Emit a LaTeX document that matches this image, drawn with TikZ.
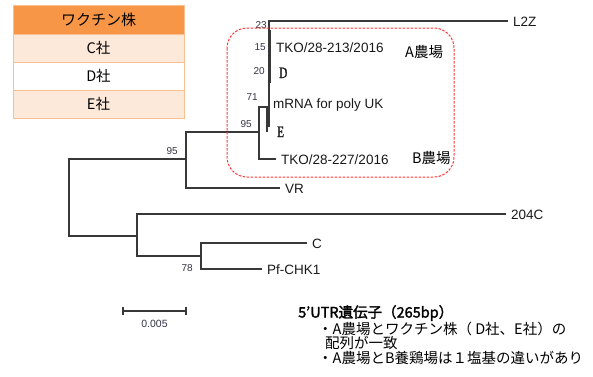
\documentclass[tikz,border=0pt]{standalone}
\usepackage{fontspec}
\setmainfont{Liberation Sans}
\newfontfamily\jp{Noto Sans CJK JP}
\newfontfamily\jpbold[FakeBold=2]{Noto Sans CJK JP}
\newfontfamily\narrowserif[FakeStretch=0.7,FakeBold=1.2]{Liberation Serif}
\usetikzlibrary{positioning}
\definecolor{branchgray}{HTML}{383838}
\definecolor{hdrorange}{HTML}{F79646}
\definecolor{rowpink}{HTML}{FDE9D9}
\definecolor{gridorange}{HTML}{FAC090}
\definecolor{bootgray}{HTML}{333344}
\definecolor{boxred}{HTML}{FF3535}

\begin{document}
\begin{tikzpicture}[x=1pt,y=-1pt,
  branch/.style={draw=branchgray,line width=1.3pt},
  leaf/.style={anchor=west,inner sep=5pt,text height=10pt,text depth=0pt,
               text=black!90,font=\fontsize{13.5}{14}\selectfont},
  boot/.style={anchor=east,inner sep=1pt,text=bootgray,font=\fontsize{10}{11}\selectfont},
  cell/.style={draw=gridorange,line width=1pt,minimum width=171pt,minimum height=28pt,
               inner sep=0pt,outer sep=0pt,font=\jp\fontsize{14.5}{15}\selectfont},
  jptext/.style={anchor=west,inner sep=0pt,font=\jp\fontsize{14.5}{15}\selectfont}]
  \useasboundingbox (0,0) rectangle (593,376);

  % vaccine strain table
  \node[cell,fill=hdrorange,minimum height=29pt,font=\jp\fontsize{15}{16}\selectfont]
       (hdr) at (98.5,19.5) {ワクチン株};
  \node[cell,fill=rowpink,below=0pt of hdr] (rowC) {C社};
  \node[cell,fill=white,below=0pt of rowC] (rowD) {D社};
  \node[cell,fill=rowpink,below=0pt of rowD] (rowE) {E社};

  % inner nodes of the tree
  \coordinate (root) at (69,197);
  \coordinate (n95a) at (186,159);
  \coordinate (n95b) at (259,132);
  \coordinate (n71) at (267,107);
  \coordinate (tipE) at (267,132);
  \coordinate (n23) at (269,107);
  \coordinate (n23end) at (269,127);
  \coordinate (n15top) at (270,30);
  \coordinate (n15bot) at (270,83);
  \coordinate (n2) at (137,236);
  \coordinate (n78) at (201,256);

  % leaves
  \node[leaf] (l2z) at (508,21) {L2Z};
  \node[leaf] (tko213) at (271,47) {TKO/28-213/2016};
  \node[leaf,font=\narrowserif\fontsize{16}{16}\selectfont] (dd) at (274,73) {D};
  \node[leaf] (mrna) at (268,103) {mRNA for poly UK};
  \node[leaf,font=\narrowserif\fontsize{16}{16}\selectfont] (ee) at (272,132) {E};
  \node[leaf] (tko227) at (276,159) {TKO/28-227/2016};
  \node[leaf] (vr) at (280,188) {VR};
  \node[leaf] (c204) at (506,214) {204C};
  \node[leaf] (cc) at (307,243) {C};
  \node[leaf] (pf) at (262,269) {Pf-CHK1};

  \draw[branch] (root) |- (n95a);
  \draw[branch] (root) |- (n2);
  \draw[branch] (n95a) |- (n95b);
  \draw[branch] (n95a) |- (vr.west);
  \draw[branch] (n95b) |- (n71);
  \draw[branch] (n95b) |- (tko227.west);
  \draw[branch] (n71) -- (tipE);
  \draw[branch] (n71) -- (n23);
  \draw[branch] (n23) |- (l2z.west);
  \draw[branch] (n23) -- (n23end);
  \draw[branch,line width=2.2pt] (n15top) -- (n15bot);
  \draw[branch] (n2) |- (c204.west);
  \draw[branch] (n2) |- (n78);
  \draw[branch] (n78) |- (cc.west);
  \draw[branch] (n78) |- (pf.west);

  % bootstrap values
  \node[boot] (b23) at (268,25) {23};
  \node[boot] (b15) at (267,47) {15};
  \node[boot] (b20) at (266,71) {20};
  \node[boot] (b71) at (259,97) {71};
  \node[boot] (b95b) at (253,124) {95};
  \node[boot] (b95a) at (179,151) {95};
  \node[boot] (b78) at (194,268) {78};

  % farm A / farm B group
  \draw[boxred,line width=1pt,dash pattern=on 2.5pt off 1.5pt,rounded corners=20pt]
       (227,28) rectangle (454,177);
  \node[jptext] (farmA) at (405,52) {A農場};
  \node[jptext] (farmB) at (412,158) {B農場};

  % scale bar
  \coordinate (sbl) at (123,311);
  \coordinate (sbr) at (186,311);
  \draw[branch] (sbl) -- (sbr);
  \draw[branch] ([yshift=-4pt]sbl) -- ([yshift=4pt]sbl);
  \draw[branch] ([yshift=-4pt]sbr) -- ([yshift=4pt]sbr);
  \node[text=bootgray,font=\fontsize{10.5}{11}\selectfont] (sblab) at (154.5,324) {0.005};

  % notes
  \node[jptext,font=\jpbold\fontsize{14.5}{15}\selectfont] (utr) at (298,313) {5’UTR遺伝子（265bp）};
  \node[jptext] (note1) at (318,329) {・A農場とワクチン株（ D社、E社）の};
  \node[jptext] (note2) at (325,343) {配列が一致};
  \node[jptext] (note3) at (318,358) {・A農場とB養鶏場は１塩基の違いがあり};
\end{tikzpicture}
\end{document}
